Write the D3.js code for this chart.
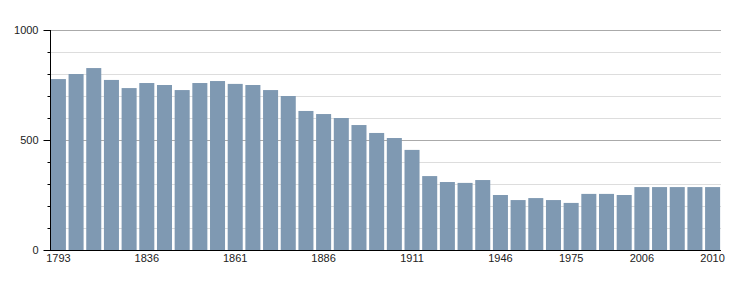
<!DOCTYPE html>
<html>
<head>
<meta charset="utf-8">
<script src="https://cdn.jsdelivr.net/npm/d3@7"></script>
<style>
  body { margin: 0; background: #fff; }
  text { font-family: "Liberation Sans", Arial, sans-serif; font-size: 11px; fill: #222; }
</style>
</head>
<body>
<div class="chart"></div>
<script>
var w = 750, h = 300;
var years = [1793, 1800, 1806, 1821, 1831, 1836, 1841, 1846, 1851, 1856,
             1861, 1866, 1872, 1876, 1881, 1886, 1891, 1896, 1901, 1906,
             1911, 1921, 1926, 1931, 1936, 1946, 1954, 1962, 1968, 1975,
             1982, 1990, 1999, 2006, 2007, 2008, 2009, 2010];
var population = [777, 800, 827, 773, 736, 759, 750, 727, 759, 768,
                  755, 750, 727, 700, 632, 618, 600, 568, 532, 509,
                  455, 336, 309, 305, 318, 250, 227, 236, 227, 214,
                  255, 255, 250, 286, 286, 286, 286, 286];
var year_labels = [1793, 1836, 1861, 1886, 1911, 1946, 1975, 2006, 2010];
var y_labels = [0, 500, 1000];

// plot area (don't call it "top", window.top is taken)
var pl = 50, pr = 721, pt = 30, pb = 250;

var svg = d3.select(".chart")
            .append("svg")
            .attr("width", w)
            .attr("height", h);

var x = d3.scaleBand()
    .domain(years)
    .range([pl, pr])
    .paddingInner(0.15)
    .paddingOuter(0.05);

var y = d3.scaleLinear()
    .domain([0, 1000])
    .range([pb, pt]);

// grid lines every 100, darker every 500
svg.selectAll("line.grid")
    .data(d3.range(100, 1001, 100))
    .enter()
    .append("line")
    .attr("class", "grid")
    .attr("x1", pl)
    .attr("x2", pr)
    .attr("y1", function(d) { return Math.round(y(d)) + 0.5; })
    .attr("y2", function(d) { return Math.round(y(d)) + 0.5; })
    .attr("stroke", function(d) { return d % 500 == 0 ? "#aaa" : "#ddd"; })
    .attr("stroke-width", 1);

svg.selectAll("rect")
    .data(population)
    .enter()
    .append("rect")
    .attr("x", function(d, i) { return x(years[i]); })
    .attr("y", function(d) { return y(d); })
    .attr("width", x.bandwidth())
    .attr("height", function(d) { return pb - y(d); })
    .attr("fill", "#7f99b2");

// left axis: small ticks each 100, labels at 0/500/1000
var yAxis = d3.axisLeft(y)
    .tickValues(d3.range(0, 1001, 100))
    .tickSize(3)
    .tickFormat(function(d) { return y_labels.indexOf(d) >= 0 ? d : ""; });
var ya = svg.append("g")
    .attr("transform", "translate(" + (pl + 0.5) + ",0)")
    .call(yAxis);
ya.select(".domain").remove();
ya.attr("font-size", null).attr("font-family", null);
ya.selectAll(".tick line").attr("stroke", "#000");
ya.selectAll(".tick line")
    .filter(function(d) { return y_labels.indexOf(d) >= 0; })
    .attr("x2", -7);
ya.selectAll(".tick text")
    .attr("x", -12)
    .attr("fill", null);

// x labels, only some years
svg.selectAll("text.year")
    .data(year_labels)
    .enter()
    .append("text")
    .attr("class", "year")
    .text(function(d) { return d; })
    .attr("x", function(d) { return x(d) + x.bandwidth() / 2; })
    .attr("y", pb + 12)
    .attr("text-anchor", "middle");

// axis lines
svg.append("line")
    .attr("x1", pl + 0.5).attr("x2", pl + 0.5)
    .attr("y1", pt).attr("y2", pb)
    .attr("stroke", "#000");
svg.append("line")
    .attr("x1", pl).attr("x2", pr)
    .attr("y1", pb + 0.5).attr("y2", pb + 0.5)
    .attr("stroke", "#000");
</script>
</body>
</html>
